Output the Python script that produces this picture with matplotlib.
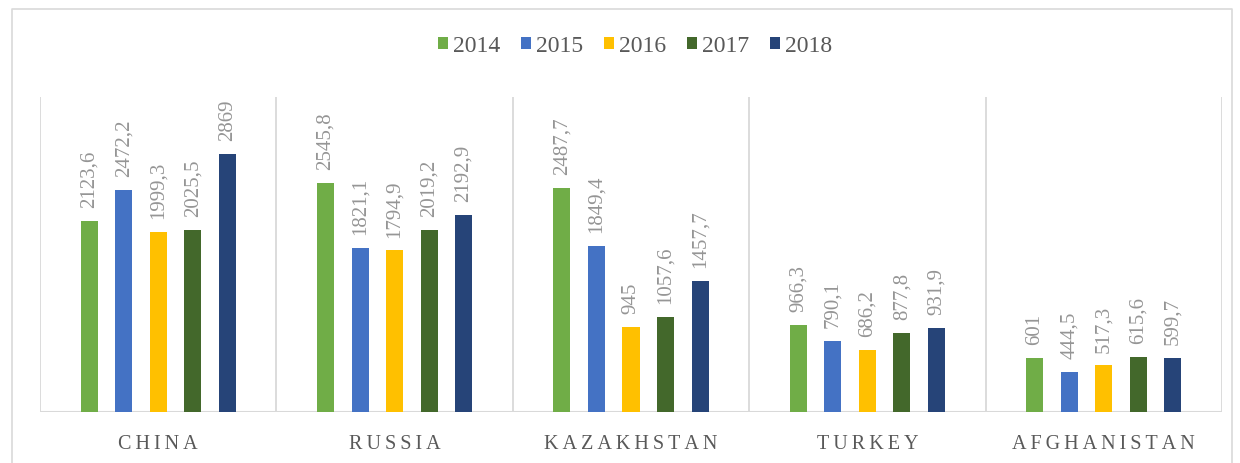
import matplotlib
matplotlib.use("Agg")
import matplotlib.pyplot as plt
from matplotlib.lines import Line2D
from matplotlib.patches import Patch
import numpy as np

plt.rcParams["font.family"] = ["Liberation Serif", "DejaVu Serif"]

countries = ["CHINA", "RUSSIA", "KAZAKHSTAN", "TURKEY", "AFGHANISTAN"]
years = ["2014", "2015", "2016", "2017", "2018"]
values = {
    "2014": [2123.6, 2545.8, 2487.7, 966.3, 601],
    "2015": [2472.2, 1821.1, 1849.4, 790.1, 444.5],
    "2016": [1999.3, 1794.9, 945, 686.2, 517.3],
    "2017": [2025.5, 2019.2, 1057.6, 877.8, 615.6],
    "2018": [2869, 2192.9, 1457.7, 931.9, 599.7],
}
colors = ["#70AD47", "#4472C4", "#FFC000", "#43682B", "#264478"]

GRID = "#d9d9d9"
LABEL = "#959595"
TEXT = "#595959"

fig = plt.figure(figsize=(12.4, 4.64), dpi=100)
ax = fig.add_axes([40 / 1240, 51 / 464, 1182 / 1240, 315 / 464])

x = np.arange(len(countries))
step, width = 0.146, 0.072
for k, yr in enumerate(years):
    pos = x + (k - 2) * step
    bars = ax.bar(pos, values[yr], width=width, color=colors[k], zorder=3)
    for b, v in zip(bars, values[yr]):
        ax.annotate(f"{v:g}".replace(".", ","),
                    (b.get_x() + b.get_width() / 2, b.get_height()),
                    xytext=(0, 10), textcoords="offset points",
                    rotation=90, ha="center", va="bottom",
                    fontsize=15, color=LABEL)

ax.set_xlim(-0.5, len(countries) - 0.5)
ax.set_ylim(0, 3500)
for b in np.arange(-0.5, len(countries), 1):
    ax.axvline(b, color=GRID, lw=1.3, zorder=1)
for s in ax.spines.values():
    s.set_visible(False)
ax.axhline(0, color=GRID, lw=1.5, zorder=2)
ax.set_yticks([])
ax.set_xticks([])
for i, c in enumerate(countries):
    ax.text(i, -0.1, "\u2009".join(c), transform=ax.get_xaxis_transform(),
            ha="center", va="center", fontsize=14.5, color=TEXT)

handles = [Patch(facecolor=colors[k], edgecolor="none", label=yr)
           for k, yr in enumerate(years)]
fig.legend(handles=handles, loc="center", bbox_to_anchor=(0.512, 1 - 47 / 464),
           ncol=5, frameon=False, fontsize=17, handlelength=0.42,
           handleheight=0.42, handletextpad=0.2, columnspacing=0.9,
           labelcolor=TEXT)

# light frame around the chart area
fx0, fx1, fy1 = 12 / 1240, 1232 / 1240, 1 - 10 / 464
fig.add_artist(Line2D([fx0, fx0, fx1, fx1], [0, fy1, fy1, 0],
                      transform=fig.transFigure, color=GRID, lw=1.2))

fig.savefig("out.png", dpi=100)
